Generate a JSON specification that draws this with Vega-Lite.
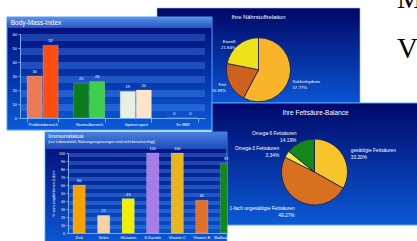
{
  "$schema": "https://vega.github.io/schema/vega-lite/v6.json",
  "width": 417,
  "height": 241,
  "autosize": "none",
  "padding": 0,
  "background": "#ffffff",
  "config": {
    "view": {"stroke": null},
    "font": "Liberation Sans",
    "text": {"font": "Liberation Sans"},
    "axis": {"labelFont": "Liberation Sans", "titleFont": "Liberation Sans"}
  },
  "datasets": {
    "panels": [
      {"panel": "Body-Mass-Index", "subtitle": ""},
      {"panel": "Ihre Nährstoffrelation", "subtitle": ""},
      {"panel": "Immunstatus", "subtitle": "(nur Lebensmittel, Nahrungsergänzungen sind nicht berücksichtigt)"},
      {"panel": "Ihre Fettsäure-Balance", "subtitle": ""}
    ],
    "bmi": [
      {"range": "Problembereich", "series": "1", "value": 30},
      {"range": "Problembereich", "series": "2", "value": 52},
      {"range": "Normalbereich", "series": "1", "value": 25},
      {"range": "Normalbereich", "series": "2", "value": 26},
      {"range": "Spitzensport", "series": "1", "value": 19},
      {"range": "Spitzensport", "series": "2", "value": 20},
      {"range": "Ihr BMI", "series": "1", "value": 0},
      {"range": "Ihr BMI", "series": "2", "value": 0}
    ],
    "nutrients": [
      {"category": "Kohlenhydrate", "percent": 57.77},
      {"category": "Fett", "percent": 20.39},
      {"category": "Eiweiß", "percent": 21.84}
    ],
    "immune": [
      {"nutrient": "Zink", "percent": 60},
      {"nutrient": "Selen", "percent": 22},
      {"nutrient": "Glutamin", "percent": 43},
      {"nutrient": "ß-Karotin", "percent": 100},
      {"nutrient": "Vitamin C", "percent": 100},
      {"nutrient": "Vitamin E", "percent": 41},
      {"nutrient": "Bioflavonoide", "percent": 87}
    ],
    "fatty": [
      {"category": "gesättigte Fettsäuren", "percent": 33.20},
      {"category": "1-fach ungesättigte Fettsäuren", "percent": 49.27},
      {"category": "Omega-3 Fettsäuren", "percent": 3.34},
      {"category": "Omega-6 Fettsäuren", "percent": 14.19}
    ],
    "letters": [
      {"letter": "M"},
      {"letter": "V"}
    ]
  },
  "resolve": {
    "scale": {"x": "independent", "y": "independent", "color": "independent", "theta": "independent", "xOffset": "independent"},
    "axis": {"x": "independent", "y": "independent"}
  },
  "layer": [
    {
      "data": {"name": "panels"},
      "transform": [{"filter": "datum.panel === 'Ihre Nährstoffrelation'"}],
      "mark": {"type": "rect", "fill": {"gradient": "linear", "x1": 0, "y1": 0, "x2": 0, "y2": 1, "stops": [{"offset": 0, "color": "#000766"}, {"offset": 1, "color": "#0b55d4"}]}, "stroke": "#9dbcf0", "strokeWidth": 0.6},
      "encoding": {
        "x": {"field": "panel", "type": "nominal", "scale": {"type": "band", "range": [157, 360], "paddingInner": 0, "paddingOuter": 0}, "axis": null},
        "y": {"field": "panel", "type": "nominal", "scale": {"type": "band", "range": [8, 103], "paddingInner": 0, "paddingOuter": 0}, "axis": null}
      }
    },
    {
      "data": {"name": "panels"},
      "transform": [{"filter": "datum.panel === 'Ihre Nährstoffrelation'"}],
      "mark": {"type": "text", "color": "#ffffff", "fontSize": 5.8, "baseline": "middle", "align": "center"},
      "encoding": {
        "x": {"field": "panel", "type": "nominal", "scale": {"type": "band", "range": [157, 360], "paddingInner": 0, "paddingOuter": 0}, "bandPosition": 0.5, "axis": null},
        "y": {"field": "panel", "type": "nominal", "scale": {"type": "band", "range": [8, 103], "paddingInner": 0, "paddingOuter": 0}, "bandPosition": 0.095, "axis": null},
        "text": {"field": "panel", "type": "nominal"}
      }
    },
    {
      "data": {"name": "nutrients"},
      "transform": [{"window": [{"op": "row_number", "as": "idx"}]}],
      "mark": {"type": "arc", "outerRadius": 32, "stroke": "#1b1b55", "strokeWidth": 0.8},
      "encoding": {
        "x": {"datum": "Ihre Nährstoffrelation", "type": "nominal", "scale": {"type": "band", "range": [157, 360], "paddingInner": 0, "paddingOuter": 0}, "bandPosition": 0.5, "axis": null},
        "y": {"datum": "Ihre Nährstoffrelation", "type": "nominal", "scale": {"type": "band", "range": [8, 103], "paddingInner": 0, "paddingOuter": 0}, "bandPosition": 0.65, "axis": null},
        "theta": {"field": "percent", "type": "quantitative", "stack": true},
        "order": {"field": "idx", "type": "quantitative"},
        "color": {"field": "category", "type": "nominal", "scale": {"domain": ["Kohlenhydrate", "Fett", "Eiweiß"], "range": ["#f8b52a", "#d0601e", "#f0e21a"]}, "legend": null}
      }
    },
    {
      "data": {"name": "nutrients"},
      "transform": [
        {"window": [{"op": "row_number", "as": "idx"}]},
        {"stack": "percent", "groupby": [], "sort": [{"field": "idx", "order": "ascending"}], "as": ["t0", "t1"]},
        {"calculate": "(datum.t0 + datum.t1) / 2", "as": "mid"},
        {"calculate": "[datum.category, format(datum.percent, '.2f') + '%']", "as": "label"},
        {"filter": "datum.mid > 50"}
      ],
      "mark": {"type": "text", "radius": 36, "align": "right", "baseline": "middle", "color": "#ffffff", "fontSize": 4.3},
      "encoding": {
        "x": {"datum": "Ihre Nährstoffrelation", "type": "nominal", "scale": {"type": "band", "range": [157, 360], "paddingInner": 0, "paddingOuter": 0}, "bandPosition": 0.5, "axis": null},
        "y": {"datum": "Ihre Nährstoffrelation", "type": "nominal", "scale": {"type": "band", "range": [8, 103], "paddingInner": 0, "paddingOuter": 0}, "bandPosition": 0.65, "axis": null},
        "theta": {"field": "mid", "type": "quantitative", "scale": {"domain": [0, 100]}},
        "text": {"field": "label", "type": "nominal"}
      }
    },
    {
      "data": {"name": "nutrients"},
      "transform": [
        {"window": [{"op": "row_number", "as": "idx"}]},
        {"stack": "percent", "groupby": [], "sort": [{"field": "idx", "order": "ascending"}], "as": ["t0", "t1"]},
        {"calculate": "(datum.t0 + datum.t1) / 2", "as": "mid"},
        {"calculate": "[datum.category, format(datum.percent, '.2f') + '%']", "as": "label"},
        {"filter": "datum.mid <= 50"}
      ],
      "mark": {"type": "text", "radius": 35, "align": "left", "baseline": "middle", "color": "#ffffff", "fontSize": 4.3},
      "encoding": {
        "x": {"datum": "Ihre Nährstoffrelation", "type": "nominal", "scale": {"type": "band", "range": [157, 360], "paddingInner": 0, "paddingOuter": 0}, "bandPosition": 0.5, "axis": null},
        "y": {"datum": "Ihre Nährstoffrelation", "type": "nominal", "scale": {"type": "band", "range": [8, 103], "paddingInner": 0, "paddingOuter": 0}, "bandPosition": 0.69, "axis": null},
        "theta": {"field": "mid", "type": "quantitative", "scale": {"domain": [0, 100]}},
        "text": {"field": "label", "type": "nominal"}
      }
    },
    {
      "data": {"name": "panels"},
      "transform": [{"filter": "datum.panel === 'Body-Mass-Index'"}],
      "mark": {"type": "rect", "fill": {"gradient": "linear", "x1": 0, "y1": 0, "x2": 0, "y2": 1, "stops": [{"offset": 0, "color": "#000a74"}, {"offset": 1, "color": "#0b5ad8"}]}, "stroke": "#4aa5ff", "strokeWidth": 1},
      "encoding": {
        "x": {"field": "panel", "type": "nominal", "scale": {"type": "band", "range": [7, 212], "paddingInner": 0, "paddingOuter": 0}, "axis": null},
        "y": {"field": "panel", "type": "nominal", "scale": {"type": "band", "range": [17, 130], "paddingInner": 0, "paddingOuter": 0}, "axis": null}
      }
    },
    {
      "data": {"name": "panels"},
      "transform": [{"filter": "datum.panel === 'Body-Mass-Index'"}],
      "mark": {"type": "rect", "fill": {"gradient": "linear", "x1": 0, "y1": 0, "x2": 0, "y2": 1, "stops": [{"offset": 0, "color": "#5d93e3"}, {"offset": 1, "color": "#2457c6"}]}},
      "encoding": {
        "x": {"field": "panel", "type": "nominal", "scale": {"type": "band", "range": [7, 212], "paddingInner": 0, "paddingOuter": 0}, "axis": null},
        "y": {"field": "panel", "type": "nominal", "scale": {"type": "band", "range": [17, 28], "paddingInner": 0, "paddingOuter": 0}, "axis": null}
      }
    },
    {
      "data": {"name": "panels"},
      "transform": [{"filter": "datum.panel === 'Body-Mass-Index'"}],
      "mark": {"type": "text", "color": "#ffffff", "fontSize": 6.5, "baseline": "middle", "align": "left"},
      "encoding": {
        "x": {"field": "panel", "type": "nominal", "scale": {"type": "band", "range": [7, 212], "paddingInner": 0, "paddingOuter": 0}, "bandPosition": 0.018, "axis": null},
        "y": {"field": "panel", "type": "nominal", "scale": {"type": "band", "range": [17, 28], "paddingInner": 0, "paddingOuter": 0}, "bandPosition": 0.5, "axis": null},
        "text": {"field": "panel", "type": "nominal"}
      }
    },
    {
      "data": {"name": "panels"},
      "transform": [{"filter": "datum.panel === 'Body-Mass-Index'"}],
      "mark": {"type": "rect", "fill": {"gradient": "linear", "x1": 0, "y1": 0, "x2": 0, "y2": 1, "stops": [
        {"offset": 0, "color": "rgba(90,160,255,0.3)"}, {"offset": 0.0833, "color": "rgba(90,160,255,0.3)"}, {"offset": 0.0833, "color": "rgba(90,160,255,0)"}, {"offset": 0.1667, "color": "rgba(90,160,255,0)"},
        {"offset": 0.1667, "color": "rgba(90,160,255,0.3)"}, {"offset": 0.25, "color": "rgba(90,160,255,0.3)"}, {"offset": 0.25, "color": "rgba(90,160,255,0)"}, {"offset": 0.3333, "color": "rgba(90,160,255,0)"},
        {"offset": 0.3333, "color": "rgba(90,160,255,0.3)"}, {"offset": 0.4167, "color": "rgba(90,160,255,0.3)"}, {"offset": 0.4167, "color": "rgba(90,160,255,0)"}, {"offset": 0.5, "color": "rgba(90,160,255,0)"},
        {"offset": 0.5, "color": "rgba(90,160,255,0.3)"}, {"offset": 0.5833, "color": "rgba(90,160,255,0.3)"}, {"offset": 0.5833, "color": "rgba(90,160,255,0)"}, {"offset": 0.6667, "color": "rgba(90,160,255,0)"},
        {"offset": 0.6667, "color": "rgba(90,160,255,0.3)"}, {"offset": 0.75, "color": "rgba(90,160,255,0.3)"}, {"offset": 0.75, "color": "rgba(90,160,255,0)"}, {"offset": 0.8333, "color": "rgba(90,160,255,0)"},
        {"offset": 0.8333, "color": "rgba(90,160,255,0.3)"}, {"offset": 0.9167, "color": "rgba(90,160,255,0.3)"}, {"offset": 0.9167, "color": "rgba(90,160,255,0)"}, {"offset": 1, "color": "rgba(90,160,255,0)"}
      ]}},
      "encoding": {
        "x": {"field": "panel", "type": "nominal", "scale": {"type": "band", "range": [20, 205], "paddingInner": 0, "paddingOuter": 0}, "axis": null},
        "y": {"datum": 0, "type": "quantitative", "scale": {"domain": [0, 60], "range": [118, 34], "nice": false}, "axis": {"orient": "left", "offset": -20, "zindex": 1, "values": [0, 10, 20, 30, 40, 50, 60], "title": null, "labelColor": "#ffffff", "labelFontSize": 4, "labelPadding": 1.5, "tickSize": 2, "tickColor": "#6fb0ff", "domainColor": "#6fb0ff", "domainWidth": 1, "grid": false}},
        "y2": {"datum": 60}
      }
    },
    {
      "data": {"name": "bmi"},
      "transform": [{"calculate": "datum.range + ' ' + datum.series", "as": "bar"}],
      "encoding": {
        "x": {"field": "range", "type": "nominal", "sort": null, "scale": {"type": "band", "range": [20, 205], "paddingInner": 0.33, "paddingOuter": 0.15}, "axis": {"orient": "bottom", "offset": -123, "zindex": 1, "title": null, "labelColor": "#ffffff", "labelFontSize": 4.2, "labelPadding": 0.5, "labelAngle": 0, "labelOverlap": false, "tickBand": "extent", "tickSize": 4, "tickColor": "#6fb0ff", "domainColor": "#6fb0ff", "domainWidth": 1}},
        "xOffset": {"field": "series", "type": "nominal", "scale": {"paddingInner": 0.05}},
        "y": {"field": "value", "type": "quantitative", "scale": {"domain": [0, 60], "range": [118, 34], "nice": false}, "axis": null}
      },
      "layer": [
        {
          "mark": {"type": "bar", "stroke": "#ffffff", "strokeOpacity": 0.35, "strokeWidth": 0.5},
          "encoding": {
            "color": {"field": "bar", "type": "nominal", "scale": {"domain": ["Problembereich 1", "Problembereich 2", "Normalbereich 1", "Normalbereich 2", "Spitzensport 1", "Spitzensport 2", "Ihr BMI 1", "Ihr BMI 2"], "range": ["#ec7a52", "#ff4d0f", "#0b7d1c", "#3fcf4f", "#e6efe0", "#fde3cc", "#ffffff", "#ffffff"]}, "legend": null}
          }
        },
        {
          "mark": {"type": "text", "dy": -2.5, "fontSize": 4, "color": "#ffffff", "baseline": "bottom"},
          "encoding": {"text": {"field": "value", "type": "quantitative"}}
        }
      ]
    },
    {
      "data": {"name": "panels"},
      "transform": [{"filter": "datum.panel === 'Ihre Fettsäure-Balance'"}],
      "mark": {"type": "rect", "fill": {"gradient": "linear", "x1": 0, "y1": 0, "x2": 0, "y2": 1, "stops": [{"offset": 0, "color": "#00086a"}, {"offset": 1, "color": "#0b5ad6"}]}, "stroke": "#4aa5ff", "strokeWidth": 1.2},
      "encoding": {
        "x": {"field": "panel", "type": "nominal", "scale": {"type": "band", "range": [212, 419], "paddingInner": 0, "paddingOuter": 0}, "axis": null},
        "y": {"field": "panel", "type": "nominal", "scale": {"type": "band", "range": [103, 225], "paddingInner": 0, "paddingOuter": 0}, "axis": null}
      }
    },
    {
      "data": {"name": "panels"},
      "transform": [{"filter": "datum.panel === 'Ihre Fettsäure-Balance'"}],
      "mark": {"type": "text", "color": "#ffffff", "fontSize": 6.5, "baseline": "middle", "align": "center"},
      "encoding": {
        "x": {"field": "panel", "type": "nominal", "scale": {"type": "band", "range": [212, 419], "paddingInner": 0, "paddingOuter": 0}, "bandPosition": 0.5, "axis": null},
        "y": {"field": "panel", "type": "nominal", "scale": {"type": "band", "range": [103, 225], "paddingInner": 0, "paddingOuter": 0}, "bandPosition": 0.082, "axis": null},
        "text": {"field": "panel", "type": "nominal"}
      }
    },
    {
      "data": {"name": "fatty"},
      "transform": [{"window": [{"op": "row_number", "as": "idx"}]}],
      "mark": {"type": "arc", "outerRadius": 33, "stroke": "#1b1b55", "strokeWidth": 0.8},
      "encoding": {
        "x": {"datum": "Ihre Fettsäure-Balance", "type": "nominal", "scale": {"type": "band", "range": [212, 419], "paddingInner": 0, "paddingOuter": 0}, "bandPosition": 0.495, "axis": null},
        "y": {"datum": "Ihre Fettsäure-Balance", "type": "nominal", "scale": {"type": "band", "range": [103, 225], "paddingInner": 0, "paddingOuter": 0}, "bandPosition": 0.566, "axis": null},
        "theta": {"field": "percent", "type": "quantitative", "stack": true},
        "order": {"field": "idx", "type": "quantitative"},
        "color": {"field": "category", "type": "nominal", "scale": {"domain": ["gesättigte Fettsäuren", "1-fach ungesättigte Fettsäuren", "Omega-3 Fettsäuren", "Omega-6 Fettsäuren"], "range": ["#f7c52a", "#d8701f", "#f2ec3a", "#17861a"]}, "legend": null}
      }
    },
    {
      "data": {"name": "fatty"},
      "transform": [
        {"window": [{"op": "row_number", "as": "idx"}]},
        {"stack": "percent", "groupby": [], "sort": [{"field": "idx", "order": "ascending"}], "as": ["t0", "t1"]},
        {"calculate": "(datum.t0 + datum.t1) / 2", "as": "mid"},
        {"calculate": "[datum.category, format(datum.percent, '.2f') + '%']", "as": "label"},
        {"filter": "datum.mid > 50"}
      ],
      "mark": {"type": "text", "radius": 42, "align": "right", "baseline": "middle", "color": "#ffffff", "fontSize": 4.8},
      "encoding": {
        "x": {"datum": "Ihre Fettsäure-Balance", "type": "nominal", "scale": {"type": "band", "range": [212, 419], "paddingInner": 0, "paddingOuter": 0}, "bandPosition": 0.495, "axis": null},
        "y": {"datum": "Ihre Fettsäure-Balance", "type": "nominal", "scale": {"type": "band", "range": [103, 225], "paddingInner": 0, "paddingOuter": 0}, "bandPosition": 0.566, "axis": null},
        "theta": {"field": "mid", "type": "quantitative", "scale": {"domain": [0, 100]}},
        "text": {"field": "label", "type": "nominal"}
      }
    },
    {
      "data": {"name": "fatty"},
      "transform": [
        {"window": [{"op": "row_number", "as": "idx"}]},
        {"stack": "percent", "groupby": [], "sort": [{"field": "idx", "order": "ascending"}], "as": ["t0", "t1"]},
        {"calculate": "(datum.t0 + datum.t1) / 2", "as": "mid"},
        {"calculate": "[datum.category, format(datum.percent, '.2f') + '%']", "as": "label"},
        {"filter": "datum.mid <= 50"}
      ],
      "mark": {"type": "text", "radius": 42, "align": "left", "baseline": "middle", "color": "#ffffff", "fontSize": 4.8},
      "encoding": {
        "x": {"datum": "Ihre Fettsäure-Balance", "type": "nominal", "scale": {"type": "band", "range": [212, 419], "paddingInner": 0, "paddingOuter": 0}, "bandPosition": 0.495, "axis": null},
        "y": {"datum": "Ihre Fettsäure-Balance", "type": "nominal", "scale": {"type": "band", "range": [103, 225], "paddingInner": 0, "paddingOuter": 0}, "bandPosition": 0.566, "axis": null},
        "theta": {"field": "mid", "type": "quantitative", "scale": {"domain": [0, 100]}},
        "text": {"field": "label", "type": "nominal"}
      }
    },
    {
      "data": {"name": "panels"},
      "transform": [{"filter": "datum.panel === 'Immunstatus'"}],
      "mark": {"type": "rect", "fill": {"gradient": "linear", "x1": 0, "y1": 0, "x2": 0, "y2": 1, "stops": [{"offset": 0, "color": "#00096e"}, {"offset": 1, "color": "#0b5ad8"}]}, "stroke": "#4aa5ff", "strokeWidth": 0.8},
      "encoding": {
        "x": {"field": "panel", "type": "nominal", "scale": {"type": "band", "range": [45, 227], "paddingInner": 0, "paddingOuter": 0}, "axis": null},
        "y": {"field": "panel", "type": "nominal", "scale": {"type": "band", "range": [132, 246], "paddingInner": 0, "paddingOuter": 0}, "axis": null}
      }
    },
    {
      "data": {"name": "panels"},
      "transform": [{"filter": "datum.panel === 'Immunstatus'"}],
      "mark": {"type": "rect", "fill": {"gradient": "linear", "x1": 0, "y1": 0, "x2": 0, "y2": 1, "stops": [{"offset": 0, "color": "#4a80dc"}, {"offset": 1, "color": "#1c4cbc"}]}},
      "encoding": {
        "x": {"field": "panel", "type": "nominal", "scale": {"type": "band", "range": [45, 227], "paddingInner": 0, "paddingOuter": 0}, "axis": null},
        "y": {"field": "panel", "type": "nominal", "scale": {"type": "band", "range": [132, 149], "paddingInner": 0, "paddingOuter": 0}, "axis": null}
      }
    },
    {
      "data": {"name": "panels"},
      "transform": [{"filter": "datum.panel === 'Immunstatus'"}],
      "mark": {"type": "text", "color": "#ffffff", "fontSize": 6.2, "baseline": "middle", "align": "left"},
      "encoding": {
        "x": {"field": "panel", "type": "nominal", "scale": {"type": "band", "range": [45, 227], "paddingInner": 0, "paddingOuter": 0}, "bandPosition": 0.018, "axis": null},
        "y": {"field": "panel", "type": "nominal", "scale": {"type": "band", "range": [132, 149], "paddingInner": 0, "paddingOuter": 0}, "bandPosition": 0.24, "axis": null},
        "text": {"field": "panel", "type": "nominal"}
      }
    },
    {
      "data": {"name": "panels"},
      "transform": [{"filter": "datum.panel === 'Immunstatus'"}],
      "mark": {"type": "text", "color": "#ffffff", "fontSize": 3.6, "baseline": "middle", "align": "left"},
      "encoding": {
        "x": {"field": "panel", "type": "nominal", "scale": {"type": "band", "range": [45, 227], "paddingInner": 0, "paddingOuter": 0}, "bandPosition": 0.018, "axis": null},
        "y": {"field": "panel", "type": "nominal", "scale": {"type": "band", "range": [132, 149], "paddingInner": 0, "paddingOuter": 0}, "bandPosition": 0.58, "axis": null},
        "text": {"field": "subtitle", "type": "nominal"}
      }
    },
    {
      "data": {"name": "panels"},
      "transform": [{"filter": "datum.panel === 'Immunstatus'"}],
      "mark": {"type": "rect", "fill": {"gradient": "linear", "x1": 0, "y1": 0, "x2": 0, "y2": 1, "stops": [
        {"offset": 0, "color": "rgba(90,160,255,0.32)"}, {"offset": 0.05, "color": "rgba(90,160,255,0.32)"}, {"offset": 0.05, "color": "rgba(90,160,255,0)"}, {"offset": 0.1, "color": "rgba(90,160,255,0)"},
        {"offset": 0.1, "color": "rgba(90,160,255,0.32)"}, {"offset": 0.15, "color": "rgba(90,160,255,0.32)"}, {"offset": 0.15, "color": "rgba(90,160,255,0)"}, {"offset": 0.2, "color": "rgba(90,160,255,0)"},
        {"offset": 0.2, "color": "rgba(90,160,255,0.32)"}, {"offset": 0.25, "color": "rgba(90,160,255,0.32)"}, {"offset": 0.25, "color": "rgba(90,160,255,0)"}, {"offset": 0.3, "color": "rgba(90,160,255,0)"},
        {"offset": 0.3, "color": "rgba(90,160,255,0.32)"}, {"offset": 0.35, "color": "rgba(90,160,255,0.32)"}, {"offset": 0.35, "color": "rgba(90,160,255,0)"}, {"offset": 0.4, "color": "rgba(90,160,255,0)"},
        {"offset": 0.4, "color": "rgba(90,160,255,0.32)"}, {"offset": 0.45, "color": "rgba(90,160,255,0.32)"}, {"offset": 0.45, "color": "rgba(90,160,255,0)"}, {"offset": 0.5, "color": "rgba(90,160,255,0)"},
        {"offset": 0.5, "color": "rgba(90,160,255,0.32)"}, {"offset": 0.55, "color": "rgba(90,160,255,0.32)"}, {"offset": 0.55, "color": "rgba(90,160,255,0)"}, {"offset": 0.6, "color": "rgba(90,160,255,0)"},
        {"offset": 0.6, "color": "rgba(90,160,255,0.32)"}, {"offset": 0.65, "color": "rgba(90,160,255,0.32)"}, {"offset": 0.65, "color": "rgba(90,160,255,0)"}, {"offset": 0.7, "color": "rgba(90,160,255,0)"},
        {"offset": 0.7, "color": "rgba(90,160,255,0.32)"}, {"offset": 0.75, "color": "rgba(90,160,255,0.32)"}, {"offset": 0.75, "color": "rgba(90,160,255,0)"}, {"offset": 0.8, "color": "rgba(90,160,255,0)"},
        {"offset": 0.8, "color": "rgba(90,160,255,0.32)"}, {"offset": 0.85, "color": "rgba(90,160,255,0.32)"}, {"offset": 0.85, "color": "rgba(90,160,255,0)"}, {"offset": 0.9, "color": "rgba(90,160,255,0)"},
        {"offset": 0.9, "color": "rgba(90,160,255,0.32)"}, {"offset": 0.95, "color": "rgba(90,160,255,0.32)"}, {"offset": 0.95, "color": "rgba(90,160,255,0)"}, {"offset": 1, "color": "rgba(90,160,255,0)"}
      ]}},
      "encoding": {
        "x": {"field": "panel", "type": "nominal", "scale": {"type": "band", "range": [68, 227], "paddingInner": 0, "paddingOuter": 0}, "axis": {"orient": "bottom", "offset": -8, "zindex": 1, "title": null, "labels": false, "ticks": false, "domainColor": "#6fb0ff", "domainWidth": 1}},
        "y": {"datum": 0, "type": "quantitative", "scale": {"domain": [0, 100], "range": [233, 153], "nice": false}, "axis": {"orient": "left", "offset": -68, "zindex": 1, "values": [0, 10, 20, 30, 40, 50, 60, 70, 80, 90, 100], "title": "% vom empfohlenen Zufuhr", "titleColor": "#ffffff", "titleFontSize": 3.8, "titleFontWeight": "normal", "titlePadding": 3, "labelColor": "#ffffff", "labelFontSize": 3.6, "labelPadding": 1.5, "tickSize": 2, "tickColor": "#6fb0ff", "domainColor": "#6fb0ff", "domainWidth": 1, "grid": false}},
        "y2": {"datum": 100}
      }
    },
    {
      "data": {"name": "immune"},
      "encoding": {
        "x": {"field": "nutrient", "type": "nominal", "sort": null, "scale": {"type": "band", "domain": ["Zink", "Selen", "Glutamin", "ß-Karotin", "Vitamin C", "Vitamin E", "Bioflavonoide"], "range": [67, 238.5], "paddingInner": 0.5, "paddingOuter": 0.245}, "axis": {"orient": "bottom", "offset": -8, "zindex": 1, "title": null, "labelColor": "#ffffff", "labelFontSize": 4, "labelPadding": 2, "labelAngle": 0, "labelOverlap": false, "ticks": false, "domain": false}},
        "y": {"field": "percent", "type": "quantitative", "scale": {"domain": [0, 100], "range": [233, 153], "nice": false}, "axis": null},
        "color": {"field": "nutrient", "type": "nominal", "scale": {"domain": ["Zink", "Selen", "Glutamin", "ß-Karotin", "Vitamin C", "Vitamin E", "Bioflavonoide"], "range": ["#f5a200", "#f3d2a6", "#f2ee00", "#a77be8", "#e9b41e", "#e2702a", "#0f8a12"]}, "legend": null}
      },
      "layer": [
        {
          "transform": [{"filter": "datum.nutrient !== 'Bioflavonoide'"}],
          "mark": {"type": "bar", "stroke": "#ffffff", "strokeOpacity": 0.35, "strokeWidth": 0.5}
        },
        {
          "transform": [{"filter": "datum.nutrient === 'Bioflavonoide'"}],
          "mark": {"type": "bar", "width": 7, "xOffset": -2.5, "stroke": "#ffffff", "strokeOpacity": 0.35, "strokeWidth": 0.5}
        },
        {
          "mark": {"type": "text", "dy": -2, "fontSize": 3.8, "color": "#ffffff", "baseline": "bottom"},
          "encoding": {"text": {"field": "percent", "type": "quantitative"}, "color": {"value": "#ffffff"}}
        }
      ]
    },
    {
      "data": {"name": "letters"},
      "mark": {"type": "text", "font": "Liberation Serif", "fontSize": 29, "color": "#000000", "align": "left", "baseline": "alphabetic"},
      "encoding": {
        "x": {"field": "letter", "type": "nominal", "scale": {"type": "point", "range": [397, 397]}, "axis": null},
        "y": {"field": "letter", "type": "nominal", "scale": {"type": "point", "range": [8, 58], "padding": 0}, "axis": null},
        "text": {"field": "letter", "type": "nominal"}
      }
    }
  ]
}
